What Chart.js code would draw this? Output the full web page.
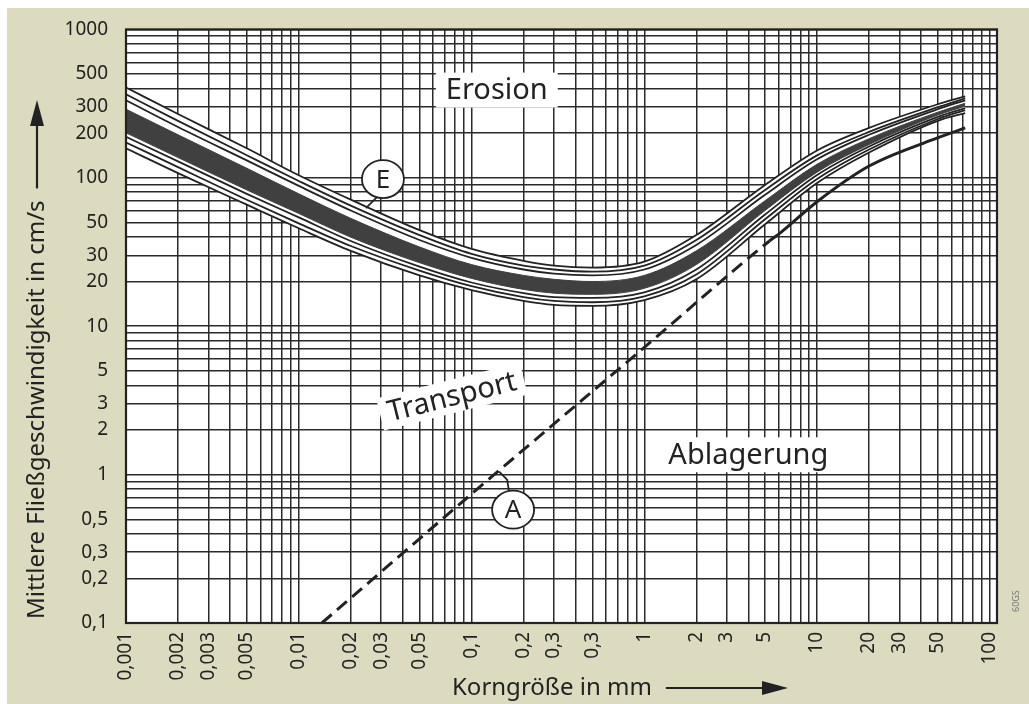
<!DOCTYPE html>
<html lang="de">
<head>
<meta charset="utf-8">
<title>Hjulström-Diagramm</title>
<script src="https://cdn.jsdelivr.net/npm/chart.js@4.4.1/dist/chart.umd.min.js"></script>
<style>
  html, body { margin: 0; padding: 0; background: #fff; }
  canvas { display: block; }
</style>
</head>
<body>
<canvas id="hjulstroem" width="1029" height="704"></canvas>
<script>
const grainSize = [0.001, 0.002, 0.005, 0.01, 0.02, 0.05, 0.1, 0.2, 0.3, 0.5, 1, 2, 5, 10, 20, 50, 72];

// Erosionsbereich (E): drei dünne Linien oben, dunkles Band, drei dünne Linien unten (cm/s)
const erosionUpper1 = [406, 269, 158, 104, 71.2, 44.4, 33.2, 27.6, 25.6, 24.8, 27.2, 41.1, 89.5, 152.8, 217, 313, 354];
const erosionUpper2 = [365, 242, 142, 95.2, 64.9, 41.1, 30.7, 25.6, 24.1, 23.3, 25.6, 38.1, 82.9, 141.6, 204, 299, 343];
const erosionUpper3 = [333, 220, 131, 88.2, 60.2, 38.1, 28.9, 24.1, 22.6, 22.0, 24.1, 35.3, 76.8, 133.2, 195, 290, 333];
const bandTop       = [290, 195, 116, 78.0, 53.3, 34.2, 26.0, 22.0, 20.7, 20.0, 22.0, 32.2, 70.1, 123.4, 183.5, 277, 318];
const bandBottom    = [201, 137, 82.9, 57.5, 39.8, 26.8, 21.0, 17.7, 16.7, 16.4, 18.0, 26.0, 60.2, 109.2, 167.5, 265, 304];
const erosionLower1 = [189, 129, 78.0, 54.1, 37.5, 25.2, 19.7, 16.7, 15.7, 15.5, 16.9, 24.1, 56.6, 104.3, 162.4, 257, 295];
const erosionLower2 = [173, 118, 71.2, 49.3, 34.7, 23.7, 18.6, 15.7, 14.8, 14.5, 15.9, 22.3, 52.5, 98.1, 155, 249, 286];
const erosionLower3 = [158, 107.5, 65.9, 45.7, 32.2, 22.0, 17.5, 14.8, 13.9, 13.7, 15.0, 20.7, 48.6, 92.3, 148, 242, 273];

// Ablagerungsgrenze (A): gestrichelt bis ca. 5 mm, danach durchgezogen
const settleSize  = [0.0136, 0.1, 1, 5.3, 6.1, 10, 20, 45, 72];
const settleSpeed = [0.1, 0.74, 7.2, 37.5, 42.4, 69, 120, 178, 217];
const dashedUntil = 5.3;

// Achsenbeschriftung (so wie im Original, inkl. doppeltem "0,3")
const xTickValues = [0.001, 0.002, 0.003, 0.005, 0.01, 0.02, 0.03, 0.05, 0.1, 0.2, 0.3, 0.5, 1, 2, 3, 5, 10, 20, 30, 50, 100];
const xTickLabels = ['0,001', '0,002', '0,003', '0,005', '0,01', '0,02', '0,03', '0,05', '0,1', '0,2', '0,3', '0,3', '1', '2', '3', '5', '10', '20', '30', '50', '100'];
const yTickValues = [1000, 500, 300, 200, 100, 50, 30, 20, 10, 5, 3, 2, 1, 0.5, 0.3, 0.2, 0.1];
const yTickLabels = ['1000', '500', '300', '200', '100', '50', '30', '20', '10', '5', '3', '2', '1', '0,5', '0,3', '0,2', '0,1'];

const FONT = '"Noto Sans", "Open Sans", sans-serif';
const INK = '#222';
const GRID = '#2a2a2a';
const BAND = '#404040';
const PAPER = '#dcdbbf';

// Logpapier: 1..9 je Dekade
function logGrid(fromExp, toExp) {
  const vals = [];
  for (let e = fromExp; e < toExp; e++) {
    for (let m = 1; m < 10; m++) vals.push(parseFloat((m * Math.pow(10, e)).toPrecision(6)));
  }
  vals.push(Math.pow(10, toExp));
  return vals;
}
const xGrid = logGrid(-3, 2);
const yGrid = logGrid(-1, 3);

function labelFor(values, labels, v) {
  const i = values.findIndex(t => Math.abs(Math.log10(t) - Math.log10(v)) < 1e-6);
  return i >= 0 ? labels[i] : '';
}

function pts(xs, ys) {
  return xs.map((x, i) => ({ x: x, y: ys[i] }));
}

function thinLine(label, ys, extra) {
  return Object.assign({
    label: label,
    data: pts(grainSize, ys),
    borderColor: INK,
    borderWidth: 1.8,
    pointRadius: 0,
    fill: false,
    cubicInterpolationMode: 'monotone'
  }, extra || {});
}

function textBox(ctx, text, x, y, angle, size, padX, padY) {
  ctx.save();
  ctx.translate(x, y);
  ctx.rotate(angle);
  ctx.font = size + 'px ' + FONT;
  const w = ctx.measureText(text).width;
  ctx.fillStyle = '#fff';
  ctx.fillRect(-w / 2 - padX, -size / 2 - padY, w + 2 * padX, size + 2 * padY);
  ctx.fillStyle = INK;
  ctx.textAlign = 'center';
  ctx.textBaseline = 'middle';
  ctx.fillText(text, 0, 1);
  ctx.restore();
}

function circleLabel(ctx, letter, x, y) {
  ctx.save();
  ctx.beginPath();
  ctx.ellipse(x, y, 21, 19, 0, 0, Math.PI * 2);
  ctx.fillStyle = '#fff';
  ctx.fill();
  ctx.lineWidth = 1.8;
  ctx.strokeStyle = INK;
  ctx.stroke();
  ctx.fillStyle = INK;
  ctx.font = '26px ' + FONT;
  ctx.textAlign = 'center';
  ctx.textBaseline = 'middle';
  ctx.fillText(letter, x, y + 1);
  ctx.restore();
}

function arrow(ctx, x1, y1, x2, y2) {
  const a = Math.atan2(y2 - y1, x2 - x1);
  const len = 26, half = 7;
  ctx.save();
  ctx.strokeStyle = INK;
  ctx.fillStyle = INK;
  ctx.lineWidth = 2.2;
  ctx.beginPath();
  ctx.moveTo(x1, y1);
  ctx.lineTo(x2 - len * Math.cos(a), y2 - len * Math.sin(a));
  ctx.stroke();
  ctx.beginPath();
  ctx.moveTo(x2, y2);
  ctx.lineTo(x2 - len * Math.cos(a) - half * Math.sin(a), y2 - len * Math.sin(a) + half * Math.cos(a));
  ctx.lineTo(x2 - len * Math.cos(a) + half * Math.sin(a), y2 - len * Math.sin(a) - half * Math.cos(a));
  ctx.closePath();
  ctx.fill();
  ctx.restore();
}

const paperPlugin = {
  id: 'paper',
  beforeDraw(chart) {
    const { ctx, width, height, chartArea: a } = chart;
    ctx.save();
    ctx.fillStyle = '#fff';
    ctx.fillRect(0, 0, width, height);
    ctx.fillStyle = PAPER;
    ctx.fillRect(7, 8, width - 7, height - 8);
    ctx.fillStyle = '#fff';
    ctx.fillRect(a.left, a.top, a.right - a.left, a.bottom - a.top);
    ctx.restore();
  }
};

const labelPlugin = {
  id: 'labels',
  afterDatasetsDraw(chart) {
    const { ctx, scales: { x, y } } = chart;
    const px = v => x.getPixelForValue(v);
    const py = v => y.getPixelForValue(v);

    textBox(ctx, 'Erosion', px(0.14), py(390), 0, 29, 10, 3);
    textBox(ctx, 'Transport', px(0.077), py(3.36), -14 * Math.PI / 180, 29, 8, 2);
    textBox(ctx, 'Ablagerung', px(4.0), py(1.36), 0, 29, 8, 3);

    // Hinweislinien zu den Kreisen
    const ex = px(0.0307), ey = py(98);
    ctx.save();
    ctx.strokeStyle = INK;
    ctx.lineWidth = 1.8;
    ctx.beginPath();
    ctx.moveTo(ex - 5, ey + 17);
    ctx.lineTo(ex - 17, ey + 29);
    ctx.stroke();
    const ax = px(0.174), ay = py(0.58);
    ctx.beginPath();
    ctx.moveTo(ax - 4, ay - 18);
    ctx.lineTo(ax - 6, ay - 30);
    ctx.lineTo(ax - 14, ay - 38);
    ctx.stroke();
    ctx.restore();
    circleLabel(ctx, 'E', ex, ey);
    circleLabel(ctx, 'A', ax, ay);
  },
  afterDraw(chart) {
    const { ctx, chartArea: a } = chart;
    ctx.save();
    ctx.strokeStyle = INK;
    ctx.lineWidth = 2.2;
    ctx.strokeRect(a.left, a.top, a.right - a.left, a.bottom - a.top);

    ctx.fillStyle = INK;
    ctx.font = '24px ' + FONT;
    ctx.textBaseline = 'middle';
    ctx.textAlign = 'left';

    // y-Titel, von unten nach oben
    const yTitle = 'Mittlere Fließgeschwindigkeit in cm/s';
    const yw = ctx.measureText(yTitle).width;
    ctx.save();
    ctx.translate(37, 619);
    ctx.rotate(-Math.PI / 2);
    ctx.fillText(yTitle, 0, 0);
    ctx.restore();
    arrow(ctx, 37, 619 - yw - 12, 37, 100);

    // x-Titel
    const xTitle = 'Korngröße in mm';
    const xw = ctx.measureText(xTitle).width;
    ctx.fillText(xTitle, 452, 688);
    arrow(ctx, 452 + xw + 14, 688, 788, 688);

    // Bildkennung am Rand
    ctx.save();
    ctx.translate(1016, 612);
    ctx.rotate(-Math.PI / 2);
    ctx.font = '9px ' + FONT;
    ctx.fillStyle = '#777';
    ctx.fillText('60GS', 0, 0);
    ctx.restore();
    ctx.restore();
  }
};

const ctx = document.getElementById('hjulstroem').getContext('2d');
new Chart(ctx, {
  type: 'line',
  data: {
    datasets: [
      thinLine('Erosion oben 1', erosionUpper1),
      thinLine('Erosion oben 2', erosionUpper2),
      thinLine('Erosion oben 3', erosionUpper3),
      thinLine('Erosion Band oben', bandTop, { borderColor: BAND, borderWidth: 1, fill: '+1', backgroundColor: BAND }),
      thinLine('Erosion Band unten', bandBottom, { borderColor: BAND, borderWidth: 1 }),
      thinLine('Erosion unten 1', erosionLower1),
      thinLine('Erosion unten 2', erosionLower2),
      thinLine('Erosion unten 3', erosionLower3, { fill: '-7', backgroundColor: '#fff' }),
      {
        label: 'Ablagerung (A)',
        data: pts(settleSize, settleSpeed),
        borderColor: INK,
        borderWidth: 3,
        pointRadius: 0,
        fill: false,
        cubicInterpolationMode: 'monotone',
        segment: {
          borderDash: c => (c.p1.parsed.x <= dashedUntil + 1e-9 ? [13, 7] : undefined)
        }
      }
    ]
  },
  options: {
    responsive: false,
    animation: false,
    layout: { padding: { top: 20, right: 32, bottom: 0, left: 0 } },
    plugins: {
      legend: { display: false },
      tooltip: { enabled: false }
    },
    scales: {
      x: {
        type: 'logarithmic',
        min: 0.001,
        max: 110,
        afterBuildTicks: s => { s.ticks = xGrid.map(v => ({ value: v })); },
        afterFit: s => { s.height = 81; },
        grid: { color: GRID, lineWidth: 1.5, drawTicks: false },
        border: { display: false },
        ticks: {
          autoSkip: false,
          minRotation: 90,
          maxRotation: 90,
          padding: 9,
          color: INK,
          font: { family: FONT, size: 19 },
          callback: v => labelFor(xTickValues, xTickLabels, v)
        }
      },
      y: {
        type: 'logarithmic',
        min: 0.1,
        max: 1000,
        afterBuildTicks: s => { s.ticks = yGrid.map(v => ({ value: v })); },
        afterFit: s => { s.width = 126; },
        grid: { color: GRID, lineWidth: 1.5, drawTicks: false },
        border: { display: false },
        ticks: {
          autoSkip: false,
          padding: 18,
          color: INK,
          font: { family: FONT, size: 19 },
          callback: v => labelFor(yTickValues, yTickLabels, v)
        }
      }
    }
  },
  plugins: [paperPlugin, labelPlugin]
});
</script>
</body>
</html>
